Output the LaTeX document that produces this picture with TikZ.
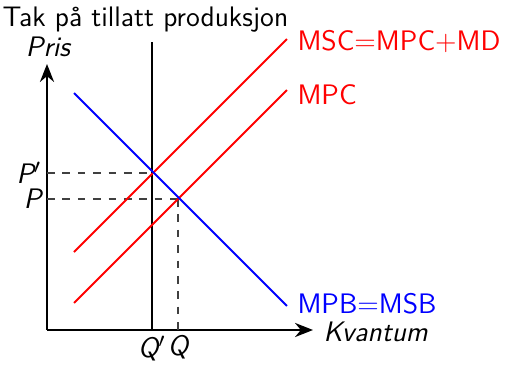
\documentclass[tikz,border=0pt]{standalone}
\usetikzlibrary{arrows.meta}
\begin{document}
\begin{tikzpicture}[x=0.39pt,y=-0.39pt,font=\sffamily\fontsize{11}{13}\selectfont,
  ax/.style={line width=0.8pt},
  curve/.style={line width=0.8pt},
  guide/.style={dashed,line width=0.4pt,black!75},
  lbl/.style={inner sep=0pt,anchor=west}]
\useasboundingbox (0,0) rectangle (511,371);
\coordinate (O) at (47,330);
\coordinate (xe) at (313,330);
\coordinate (ye) at (47,64);
\coordinate (vt) at (152,42);
\coordinate (vb) at (152,330);
\coordinate (b1) at (74,93);  \coordinate (b2) at (287,306);
\coordinate (s1) at (74,252); \coordinate (s2) at (287,39);
\coordinate (m1) at (74,303); \coordinate (m2) at (287,90);
\coordinate (Pp) at (152,173); \coordinate (Pa) at (47,173);
\coordinate (E) at (178,199);  \coordinate (Ea) at (47,199);
\coordinate (Eq) at (178,330);
\draw[ax,-{Stealth[length=7pt,width=5.5pt]}] (O) -- (xe);
\draw[ax,-{Stealth[length=7pt,width=5.5pt]}] (O) -- (ye);
\draw[ax] (vb) -- (vt);
\draw[guide] (Pa) -- (Pp);
\draw[guide] (Ea) -- (E);
\draw[guide] (E) -- (Eq);
\draw[curve,red] (s1) -- (s2);
\draw[curve,red] (m1) -- (m2);
\draw[curve,blue] (b1) -- (b2);
\node[inner sep=0pt,anchor=base west] (title) at (2,26) {Tak på tillatt produksjon};
\node[inner sep=0pt,anchor=base] (pris) at (48,56) {\itshape Pris};
\node[lbl] (kv) at (323,332) {\itshape Kvantum};
\node[lbl,red] (msc) at (297,42) {MSC=MPC+MD};
\node[lbl,red] (mpc) at (297,95) {MPC};
\node[lbl,blue] (mpb) at (297,304) {MPB=MSB};
\node[anchor=east,inner sep=2pt] (lp) at (Pa) {\itshape P$'$};
\node[anchor=east,inner sep=2pt] (lpp) at (Ea) {\itshape P};
\node[anchor=north,inner sep=2pt] (lq) at (vb) {\itshape Q$'$};
\node[anchor=north,inner sep=2pt] (lqq) at (Eq) {\itshape Q};
\end{tikzpicture}
\end{document}
